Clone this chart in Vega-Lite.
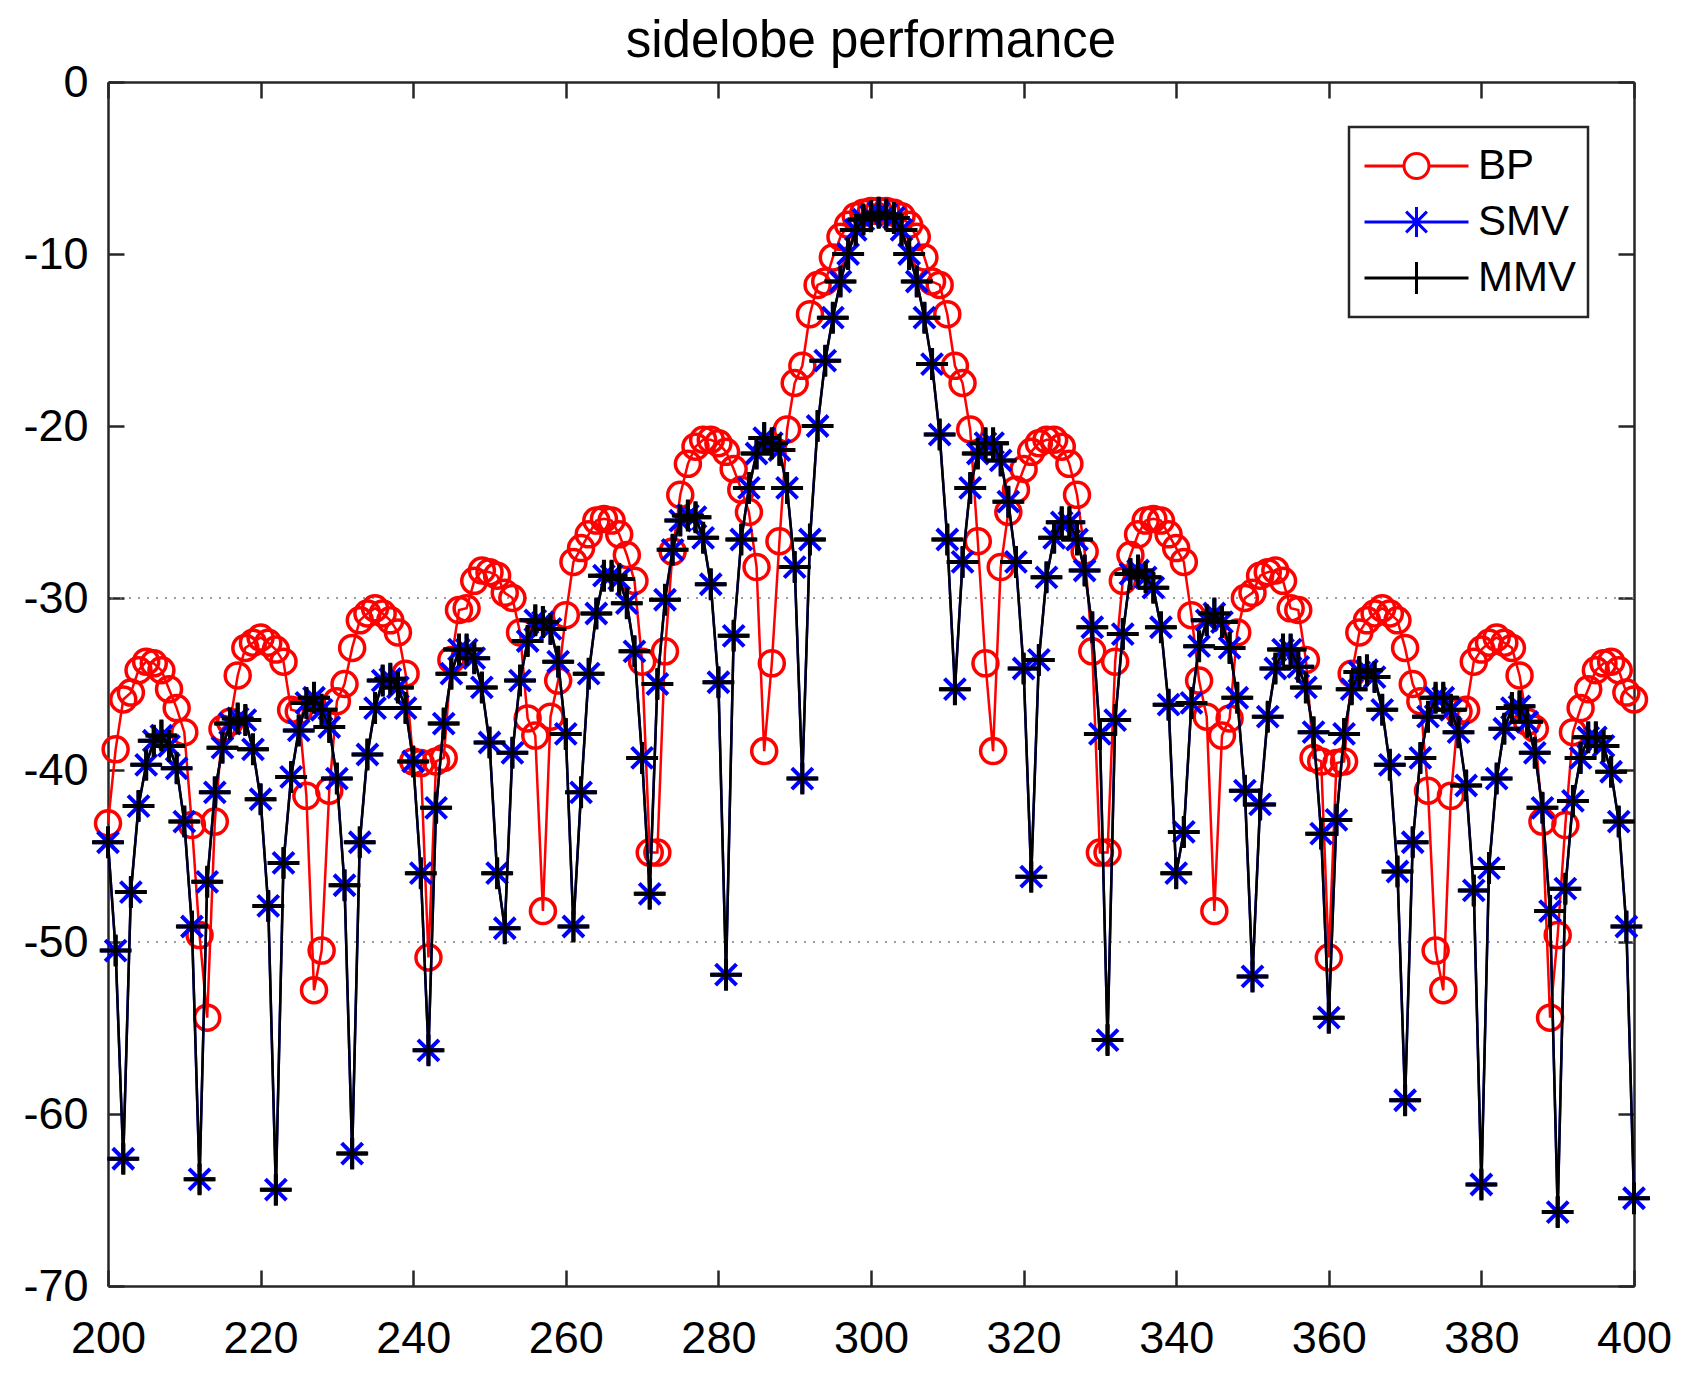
{
  "$schema": "https://vega.github.io/schema/vega-lite/v6.json",
  "description": "sidelobe performance: BP, SMV and MMV beam patterns",
  "autosize": "none",
  "width": 1526,
  "height": 1204,
  "padding": {"left": 108, "top": 82, "right": 49, "bottom": 91},
  "background": "white",
  "title": {
    "text": "sidelobe performance",
    "font": "Liberation Sans",
    "fontSize": 51,
    "fontWeight": "normal",
    "color": "#000000",
    "anchor": "middle",
    "baseline": "alphabetic",
    "offset": -48
  },
  "config": {"view": {"stroke": null}},
  "data": {
    "values": [
      {"x":200,"BP":-43.1,"SMV":-44.2,"MMV":-44.2},
      {"x":201,"BP":-38.8,"SMV":-50.5,"MMV":-50.5},
      {"x":202,"BP":-35.9,"SMV":-62.6,"MMV":-62.6},
      {"x":203,"BP":-35.5,"SMV":-47.1,"MMV":-47.1},
      {"x":204,"BP":-34.2,"SMV":-42.1,"MMV":-42.1},
      {"x":205,"BP":-33.7,"SMV":-39.7,"MMV":-39.7},
      {"x":206,"BP":-33.8,"SMV":-38.3,"MMV":-38.3},
      {"x":207,"BP":-34.2,"SMV":-38.0,"MMV":-38.0},
      {"x":208,"BP":-35.3,"SMV":-38.6,"MMV":-38.6},
      {"x":209,"BP":-36.4,"SMV":-39.9,"MMV":-39.9},
      {"x":210,"BP":-37.8,"SMV":-43.0,"MMV":-43.0},
      {"x":211,"BP":-43.2,"SMV":-49.1,"MMV":-49.1},
      {"x":212,"BP":-49.6,"SMV":-63.8,"MMV":-63.8},
      {"x":213,"BP":-54.4,"SMV":-46.5,"MMV":-46.5},
      {"x":214,"BP":-43.0,"SMV":-41.3,"MMV":-41.3},
      {"x":215,"BP":-37.6,"SMV":-38.7,"MMV":-38.7},
      {"x":216,"BP":-37.2,"SMV":-37.3,"MMV":-37.3},
      {"x":217,"BP":-34.5,"SMV":-37.0,"MMV":-37.0},
      {"x":218,"BP":-32.9,"SMV":-37.1,"MMV":-37.1},
      {"x":219,"BP":-32.6,"SMV":-38.8,"MMV":-38.8},
      {"x":220,"BP":-32.3,"SMV":-41.7,"MMV":-41.7},
      {"x":221,"BP":-32.6,"SMV":-47.9,"MMV":-47.9},
      {"x":222,"BP":-33.0,"SMV":-64.4,"MMV":-64.4},
      {"x":223,"BP":-33.7,"SMV":-45.4,"MMV":-45.4},
      {"x":224,"BP":-36.5,"SMV":-40.4,"MMV":-40.4},
      {"x":225,"BP":-36.6,"SMV":-37.7,"MMV":-37.7},
      {"x":226,"BP":-41.5,"SMV":-36.1,"MMV":-36.1},
      {"x":227,"BP":-52.8,"SMV":-35.8,"MMV":-35.8},
      {"x":228,"BP":-50.5,"SMV":-36.5,"MMV":-36.5},
      {"x":229,"BP":-41.2,"SMV":-37.5,"MMV":-37.5},
      {"x":230,"BP":-36.0,"SMV":-40.5,"MMV":-40.5},
      {"x":231,"BP":-35.0,"SMV":-46.7,"MMV":-46.7},
      {"x":232,"BP":-32.9,"SMV":-62.3,"MMV":-62.3},
      {"x":233,"BP":-31.3,"SMV":-44.2,"MMV":-44.2},
      {"x":234,"BP":-30.9,"SMV":-39.1,"MMV":-39.1},
      {"x":235,"BP":-30.6,"SMV":-36.4,"MMV":-36.4},
      {"x":236,"BP":-30.9,"SMV":-34.8,"MMV":-34.8},
      {"x":237,"BP":-31.3,"SMV":-34.7,"MMV":-34.7},
      {"x":238,"BP":-32.0,"SMV":-35.2,"MMV":-35.2},
      {"x":239,"BP":-34.4,"SMV":-36.4,"MMV":-36.4},
      {"x":240,"BP":-39.5,"SMV":-39.5,"MMV":-39.5},
      {"x":241,"BP":-39.6,"SMV":-46.0,"MMV":-46.0},
      {"x":242,"BP":-50.9,"SMV":-56.3,"MMV":-56.3},
      {"x":243,"BP":-39.5,"SMV":-42.2,"MMV":-42.2},
      {"x":244,"BP":-39.3,"SMV":-37.3,"MMV":-37.3},
      {"x":245,"BP":-33.6,"SMV":-34.4,"MMV":-34.4},
      {"x":246,"BP":-30.7,"SMV":-33.0,"MMV":-33.0},
      {"x":247,"BP":-30.6,"SMV":-33.0,"MMV":-33.0},
      {"x":248,"BP":-29.0,"SMV":-33.5,"MMV":-33.5},
      {"x":249,"BP":-28.4,"SMV":-35.2,"MMV":-35.2},
      {"x":250,"BP":-28.5,"SMV":-38.4,"MMV":-38.4},
      {"x":251,"BP":-28.7,"SMV":-46.0,"MMV":-46.0},
      {"x":252,"BP":-29.7,"SMV":-49.2,"MMV":-49.2},
      {"x":253,"BP":-30.0,"SMV":-39.0,"MMV":-39.0},
      {"x":254,"BP":-32.0,"SMV":-34.8,"MMV":-34.8},
      {"x":255,"BP":-37.0,"SMV":-32.5,"MMV":-32.5},
      {"x":256,"BP":-38.0,"SMV":-31.3,"MMV":-31.3},
      {"x":257,"BP":-48.2,"SMV":-31.4,"MMV":-31.4},
      {"x":258,"BP":-36.9,"SMV":-31.8,"MMV":-31.8},
      {"x":259,"BP":-34.8,"SMV":-33.7,"MMV":-33.7},
      {"x":260,"BP":-31.0,"SMV":-37.9,"MMV":-37.9},
      {"x":261,"BP":-27.9,"SMV":-49.1,"MMV":-49.1},
      {"x":262,"BP":-27.1,"SMV":-41.3,"MMV":-41.3},
      {"x":263,"BP":-26.3,"SMV":-34.4,"MMV":-34.4},
      {"x":264,"BP":-25.5,"SMV":-30.9,"MMV":-30.9},
      {"x":265,"BP":-25.4,"SMV":-28.7,"MMV":-28.7},
      {"x":266,"BP":-25.5,"SMV":-28.7,"MMV":-28.7},
      {"x":267,"BP":-26.3,"SMV":-28.9,"MMV":-28.9},
      {"x":268,"BP":-27.5,"SMV":-30.3,"MMV":-30.3},
      {"x":269,"BP":-29.0,"SMV":-33.1,"MMV":-33.1},
      {"x":270,"BP":-33.7,"SMV":-39.3,"MMV":-39.3},
      {"x":271,"BP":-44.8,"SMV":-47.2,"MMV":-47.2},
      {"x":272,"BP":-44.8,"SMV":-35.0,"MMV":-35.0},
      {"x":273,"BP":-33.1,"SMV":-30.1,"MMV":-30.1},
      {"x":274,"BP":-27.3,"SMV":-27.2,"MMV":-27.2},
      {"x":275,"BP":-24.0,"SMV":-25.5,"MMV":-25.5},
      {"x":276,"BP":-22.2,"SMV":-25.2,"MMV":-25.2},
      {"x":277,"BP":-21.2,"SMV":-25.3,"MMV":-25.3},
      {"x":278,"BP":-20.8,"SMV":-26.5,"MMV":-26.5},
      {"x":279,"BP":-20.8,"SMV":-29.2,"MMV":-29.2},
      {"x":280,"BP":-21.0,"SMV":-34.9,"MMV":-34.9},
      {"x":281,"BP":-21.5,"SMV":-51.9,"MMV":-51.9},
      {"x":282,"BP":-22.5,"SMV":-32.2,"MMV":-32.2},
      {"x":283,"BP":-23.7,"SMV":-26.6,"MMV":-26.6},
      {"x":284,"BP":-25.0,"SMV":-23.6,"MMV":-23.6},
      {"x":285,"BP":-28.2,"SMV":-21.6,"MMV":-21.6},
      {"x":286,"BP":-38.9,"SMV":-20.7,"MMV":-20.7},
      {"x":287,"BP":-33.8,"SMV":-21.0,"MMV":-21.0},
      {"x":288,"BP":-26.7,"SMV":-21.4,"MMV":-21.4},
      {"x":289,"BP":-20.2,"SMV":-23.6,"MMV":-23.6},
      {"x":290,"BP":-17.5,"SMV":-28.2,"MMV":-28.2},
      {"x":291,"BP":-16.5,"SMV":-40.5,"MMV":-40.5},
      {"x":292,"BP":-13.5,"SMV":-26.6,"MMV":-26.6},
      {"x":293,"BP":-11.8,"SMV":-20.0,"MMV":-20.0},
      {"x":294,"BP":-11.6,"SMV":-16.2,"MMV":-16.2},
      {"x":295,"BP":-10.2,"SMV":-13.7,"MMV":-13.7},
      {"x":296,"BP":-9.0,"SMV":-11.6,"MMV":-11.6},
      {"x":297,"BP":-8.3,"SMV":-10.0,"MMV":-10.0},
      {"x":298,"BP":-7.8,"SMV":-8.6,"MMV":-8.6},
      {"x":299,"BP":-7.6,"SMV":-8.0,"MMV":-8.0},
      {"x":300,"BP":-7.5,"SMV":-7.8,"MMV":-7.8},
      {"x":301,"BP":-7.5,"SMV":-7.6,"MMV":-7.6},
      {"x":302,"BP":-7.5,"SMV":-7.7,"MMV":-7.7},
      {"x":303,"BP":-7.6,"SMV":-7.9,"MMV":-7.9},
      {"x":304,"BP":-7.8,"SMV":-8.6,"MMV":-8.6},
      {"x":305,"BP":-8.3,"SMV":-10.0,"MMV":-10.0},
      {"x":306,"BP":-9.0,"SMV":-11.6,"MMV":-11.6},
      {"x":307,"BP":-10.2,"SMV":-13.7,"MMV":-13.7},
      {"x":308,"BP":-11.6,"SMV":-16.4,"MMV":-16.4},
      {"x":309,"BP":-11.8,"SMV":-20.5,"MMV":-20.5},
      {"x":310,"BP":-13.5,"SMV":-26.6,"MMV":-26.6},
      {"x":311,"BP":-16.5,"SMV":-35.3,"MMV":-35.3},
      {"x":312,"BP":-17.5,"SMV":-27.9,"MMV":-27.9},
      {"x":313,"BP":-20.2,"SMV":-23.6,"MMV":-23.6},
      {"x":314,"BP":-26.7,"SMV":-21.6,"MMV":-21.6},
      {"x":315,"BP":-33.8,"SMV":-21.0,"MMV":-21.0},
      {"x":316,"BP":-38.9,"SMV":-21.0,"MMV":-21.0},
      {"x":317,"BP":-28.2,"SMV":-22.0,"MMV":-22.0},
      {"x":318,"BP":-25.0,"SMV":-24.4,"MMV":-24.4},
      {"x":319,"BP":-23.7,"SMV":-27.9,"MMV":-27.9},
      {"x":320,"BP":-22.5,"SMV":-34.1,"MMV":-34.1},
      {"x":321,"BP":-21.5,"SMV":-46.2,"MMV":-46.2},
      {"x":322,"BP":-21.0,"SMV":-33.6,"MMV":-33.6},
      {"x":323,"BP":-20.8,"SMV":-28.8,"MMV":-28.8},
      {"x":324,"BP":-20.8,"SMV":-26.5,"MMV":-26.5},
      {"x":325,"BP":-21.2,"SMV":-25.6,"MMV":-25.6},
      {"x":326,"BP":-22.2,"SMV":-25.6,"MMV":-25.6},
      {"x":327,"BP":-24.0,"SMV":-26.6,"MMV":-26.6},
      {"x":328,"BP":-27.3,"SMV":-28.4,"MMV":-28.4},
      {"x":329,"BP":-33.1,"SMV":-31.7,"MMV":-31.7},
      {"x":330,"BP":-44.8,"SMV":-37.9,"MMV":-37.9},
      {"x":331,"BP":-44.8,"SMV":-55.7,"MMV":-55.7},
      {"x":332,"BP":-33.7,"SMV":-37.1,"MMV":-37.1},
      {"x":333,"BP":-29.0,"SMV":-32.1,"MMV":-32.1},
      {"x":334,"BP":-27.5,"SMV":-28.6,"MMV":-28.6},
      {"x":335,"BP":-26.3,"SMV":-28.4,"MMV":-28.4},
      {"x":336,"BP":-25.5,"SMV":-28.8,"MMV":-28.8},
      {"x":337,"BP":-25.4,"SMV":-29.4,"MMV":-29.4},
      {"x":338,"BP":-25.5,"SMV":-31.7,"MMV":-31.7},
      {"x":339,"BP":-26.3,"SMV":-36.2,"MMV":-36.2},
      {"x":340,"BP":-27.1,"SMV":-46.0,"MMV":-46.0},
      {"x":341,"BP":-27.9,"SMV":-43.6,"MMV":-43.6},
      {"x":342,"BP":-31.0,"SMV":-36.1,"MMV":-36.1},
      {"x":343,"BP":-34.8,"SMV":-32.8,"MMV":-32.8},
      {"x":344,"BP":-36.9,"SMV":-31.3,"MMV":-31.3},
      {"x":345,"BP":-48.2,"SMV":-30.9,"MMV":-30.9},
      {"x":346,"BP":-38.0,"SMV":-31.4,"MMV":-31.4},
      {"x":347,"BP":-37.0,"SMV":-32.9,"MMV":-32.9},
      {"x":348,"BP":-32.0,"SMV":-35.8,"MMV":-35.8},
      {"x":349,"BP":-30.0,"SMV":-41.2,"MMV":-41.2},
      {"x":350,"BP":-29.7,"SMV":-52.0,"MMV":-52.0},
      {"x":351,"BP":-28.7,"SMV":-42.0,"MMV":-42.0},
      {"x":352,"BP":-28.5,"SMV":-36.9,"MMV":-36.9},
      {"x":353,"BP":-28.4,"SMV":-34.1,"MMV":-34.1},
      {"x":354,"BP":-29.0,"SMV":-33.0,"MMV":-33.0},
      {"x":355,"BP":-30.6,"SMV":-33.0,"MMV":-33.0},
      {"x":356,"BP":-30.7,"SMV":-34.0,"MMV":-34.0},
      {"x":357,"BP":-33.6,"SMV":-35.2,"MMV":-35.2},
      {"x":358,"BP":-39.3,"SMV":-37.8,"MMV":-37.8},
      {"x":359,"BP":-39.5,"SMV":-43.7,"MMV":-43.7},
      {"x":360,"BP":-50.9,"SMV":-54.4,"MMV":-54.4},
      {"x":361,"BP":-39.6,"SMV":-42.9,"MMV":-42.9},
      {"x":362,"BP":-39.5,"SMV":-37.9,"MMV":-37.9},
      {"x":363,"BP":-34.4,"SMV":-35.3,"MMV":-35.3},
      {"x":364,"BP":-32.0,"SMV":-34.3,"MMV":-34.3},
      {"x":365,"BP":-31.3,"SMV":-34.2,"MMV":-34.2},
      {"x":366,"BP":-30.9,"SMV":-34.6,"MMV":-34.6},
      {"x":367,"BP":-30.6,"SMV":-36.5,"MMV":-36.5},
      {"x":368,"BP":-30.9,"SMV":-39.7,"MMV":-39.7},
      {"x":369,"BP":-31.3,"SMV":-45.9,"MMV":-45.9},
      {"x":370,"BP":-32.9,"SMV":-59.2,"MMV":-59.2},
      {"x":371,"BP":-35.0,"SMV":-44.2,"MMV":-44.2},
      {"x":372,"BP":-36.0,"SMV":-39.3,"MMV":-39.3},
      {"x":373,"BP":-41.2,"SMV":-36.9,"MMV":-36.9},
      {"x":374,"BP":-50.5,"SMV":-35.8,"MMV":-35.8},
      {"x":375,"BP":-52.8,"SMV":-35.8,"MMV":-35.8},
      {"x":376,"BP":-41.5,"SMV":-36.5,"MMV":-36.5},
      {"x":377,"BP":-36.6,"SMV":-37.8,"MMV":-37.8},
      {"x":378,"BP":-36.5,"SMV":-40.9,"MMV":-40.9},
      {"x":379,"BP":-33.7,"SMV":-47.0,"MMV":-47.0},
      {"x":380,"BP":-33.0,"SMV":-64.1,"MMV":-64.1},
      {"x":381,"BP":-32.6,"SMV":-45.7,"MMV":-45.7},
      {"x":382,"BP":-32.3,"SMV":-40.5,"MMV":-40.5},
      {"x":383,"BP":-32.6,"SMV":-37.6,"MMV":-37.6},
      {"x":384,"BP":-32.9,"SMV":-36.4,"MMV":-36.4},
      {"x":385,"BP":-34.5,"SMV":-36.3,"MMV":-36.3},
      {"x":386,"BP":-37.2,"SMV":-37.2,"MMV":-37.2},
      {"x":387,"BP":-37.6,"SMV":-39.0,"MMV":-39.0},
      {"x":388,"BP":-43.0,"SMV":-42.2,"MMV":-42.2},
      {"x":389,"BP":-54.4,"SMV":-48.2,"MMV":-48.2},
      {"x":390,"BP":-49.6,"SMV":-65.7,"MMV":-65.7},
      {"x":391,"BP":-43.2,"SMV":-46.9,"MMV":-46.9},
      {"x":392,"BP":-37.8,"SMV":-41.8,"MMV":-41.8},
      {"x":393,"BP":-36.4,"SMV":-39.3,"MMV":-39.3},
      {"x":394,"BP":-35.3,"SMV":-38.1,"MMV":-38.1},
      {"x":395,"BP":-34.2,"SMV":-38.1,"MMV":-38.1},
      {"x":396,"BP":-33.8,"SMV":-38.6,"MMV":-38.6},
      {"x":397,"BP":-33.7,"SMV":-40.1,"MMV":-40.1},
      {"x":398,"BP":-34.2,"SMV":-43.0,"MMV":-43.0},
      {"x":399,"BP":-35.5,"SMV":-49.1,"MMV":-49.1},
      {"x":400,"BP":-35.9,"SMV":-64.9,"MMV":-64.9}
    ]
  },
  "layer": [
    {
      "data": {"values": [{"g": -30}, {"g": -50}]},
      "mark": {"type": "rule", "color": "#7f7f7f", "strokeWidth": 1.5, "strokeDash": [2, 7]},
      "encoding": {
        "y": {"field": "g", "type": "quantitative", "axis": null,
              "scale": {"domain": [-70, 0], "nice": false, "zero": false}}
      }
    },
    {
      "mark": {"type": "line", "strokeWidth": 2.5},
      "encoding": {
        "x": {"field": "x", "type": "quantitative",
              "scale": {"domain": [200, 400], "nice": false, "zero": false},
              "axis": {"orient": "bottom", "title": null, "grid": false,
                       "values": [200, 220, 240, 260, 280, 300, 320, 340, 360, 380, 400],
                       "labelFont": "Liberation Sans", "labelFontSize": 45, "labelColor": "#000000",
                       "labelFlush": false, "labelOverlap": false, "labelPadding": 46,
                       "domainColor": "#262626", "domainWidth": 2.5,
                       "tickColor": "#262626", "tickWidth": 2.5, "tickSize": -16}},
        "y": {"field": "BP", "type": "quantitative",
              "axis": {"orient": "left", "title": null, "grid": false,
                       "values": [-70, -60, -50, -40, -30, -20, -10, 0],
                       "labelExpr": "'' + datum.value",
                       "labelFont": "Liberation Sans", "labelFontSize": 45, "labelColor": "#000000",
                       "labelFlush": false, "labelOverlap": false, "labelPadding": 36,
                       "domainColor": "#262626", "domainWidth": 2.5,
                       "tickColor": "#262626", "tickWidth": 2.5, "tickSize": -16}},
        "color": {"datum": "BP",
                  "scale": {"domain": ["BP", "SMV", "MMV"], "range": ["#ff0000", "#0000ff", "#000000"]},
                  "legend": {
                    "orient": "none", "legendX": 1241, "legendY": 45,
                    "title": null, "direction": "vertical",
                    "strokeColor": "#262626", "fillColor": "#ffffff",
                    "padding": 12, "symbolOffset": 2, "symbolSize": 10816,
                    "symbolStrokeWidth": 3, "clipHeight": 54, "rowPadding": 2,
                    "labelFont": "Liberation Sans", "labelFontSize": 42, "labelColor": "#000000",
                    "labelOffset": 8,
                    "encode": {
                      "legend": {"update": {"strokeWidth": {"value": 2.5}}},
                      "symbols": {
                        "update": {
                          "shape": {"signal": "datum.value === 'BP' ? 'M-1,0L-0.24,0M0.24,0L1,0M0.24,0A0.24,0.24 0 1,1 -0.24,0A0.24,0.24 0 1,1 0.24,0' : datum.value === 'SMV' ? 'M-1,0L1,0M0,-0.29L0,0.29M-0.2,-0.2L0.2,0.2M-0.2,0.2L0.2,-0.2' : 'M-1,0L1,0M0,-0.31L0,0.31'"},
                          "fill": {"value": "transparent"},
                          "strokeWidth": {"value": 3},
                          "opacity": {"value": 1}
                        }
                      }
                    }
                  }}
      }
    },
    {
      "mark": {"type": "point", "shape": "circle", "size": 625, "strokeWidth": 3.5, "filled": false, "opacity": 1},
      "encoding": {
        "x": {"field": "x", "type": "quantitative",
              "axis": {"orient": "top", "title": null, "grid": false, "labels": false,
                       "values": [200, 220, 240, 260, 280, 300, 320, 340, 360, 380, 400],
                       "domainColor": "#262626", "domainWidth": 2.5,
                       "tickColor": "#262626", "tickWidth": 2.5, "tickSize": -16}},
        "y": {"field": "BP", "type": "quantitative",
              "axis": {"orient": "right", "title": null, "grid": false, "labels": false,
                       "values": [-70, -60, -50, -40, -30, -20, -10, 0],
                       "domainColor": "#262626", "domainWidth": 2.5,
                       "tickColor": "#262626", "tickWidth": 2.5, "tickSize": -16}},
        "color": {"datum": "BP"}
      }
    },
    {
      "mark": {"type": "line", "strokeWidth": 2.5},
      "encoding": {
        "x": {"field": "x", "type": "quantitative", "axis": null},
        "y": {"field": "SMV", "type": "quantitative", "axis": null},
        "color": {"datum": "SMV"}
      }
    },
    {
      "mark": {"type": "point", "shape": "M-1,0L1,0M0,-1L0,1M-0.7,-0.7L0.7,0.7M-0.7,0.7L0.7,-0.7",
               "size": 900, "strokeWidth": 4, "filled": false, "opacity": 1},
      "encoding": {
        "x": {"field": "x", "type": "quantitative", "axis": null},
        "y": {"field": "SMV", "type": "quantitative", "axis": null},
        "color": {"datum": "SMV"}
      }
    },
    {
      "mark": {"type": "line", "strokeWidth": 2.5},
      "encoding": {
        "x": {"field": "x", "type": "quantitative", "axis": null},
        "y": {"field": "MMV", "type": "quantitative", "axis": null},
        "color": {"datum": "MMV"}
      }
    },
    {
      "mark": {"type": "point", "shape": "M-1,0L1,0M0,-1L0,1",
               "size": 1024, "strokeWidth": 4, "filled": false, "opacity": 1},
      "encoding": {
        "x": {"field": "x", "type": "quantitative", "axis": null},
        "y": {"field": "MMV", "type": "quantitative", "axis": null},
        "color": {"datum": "MMV"}
      }
    }
  ]
}
